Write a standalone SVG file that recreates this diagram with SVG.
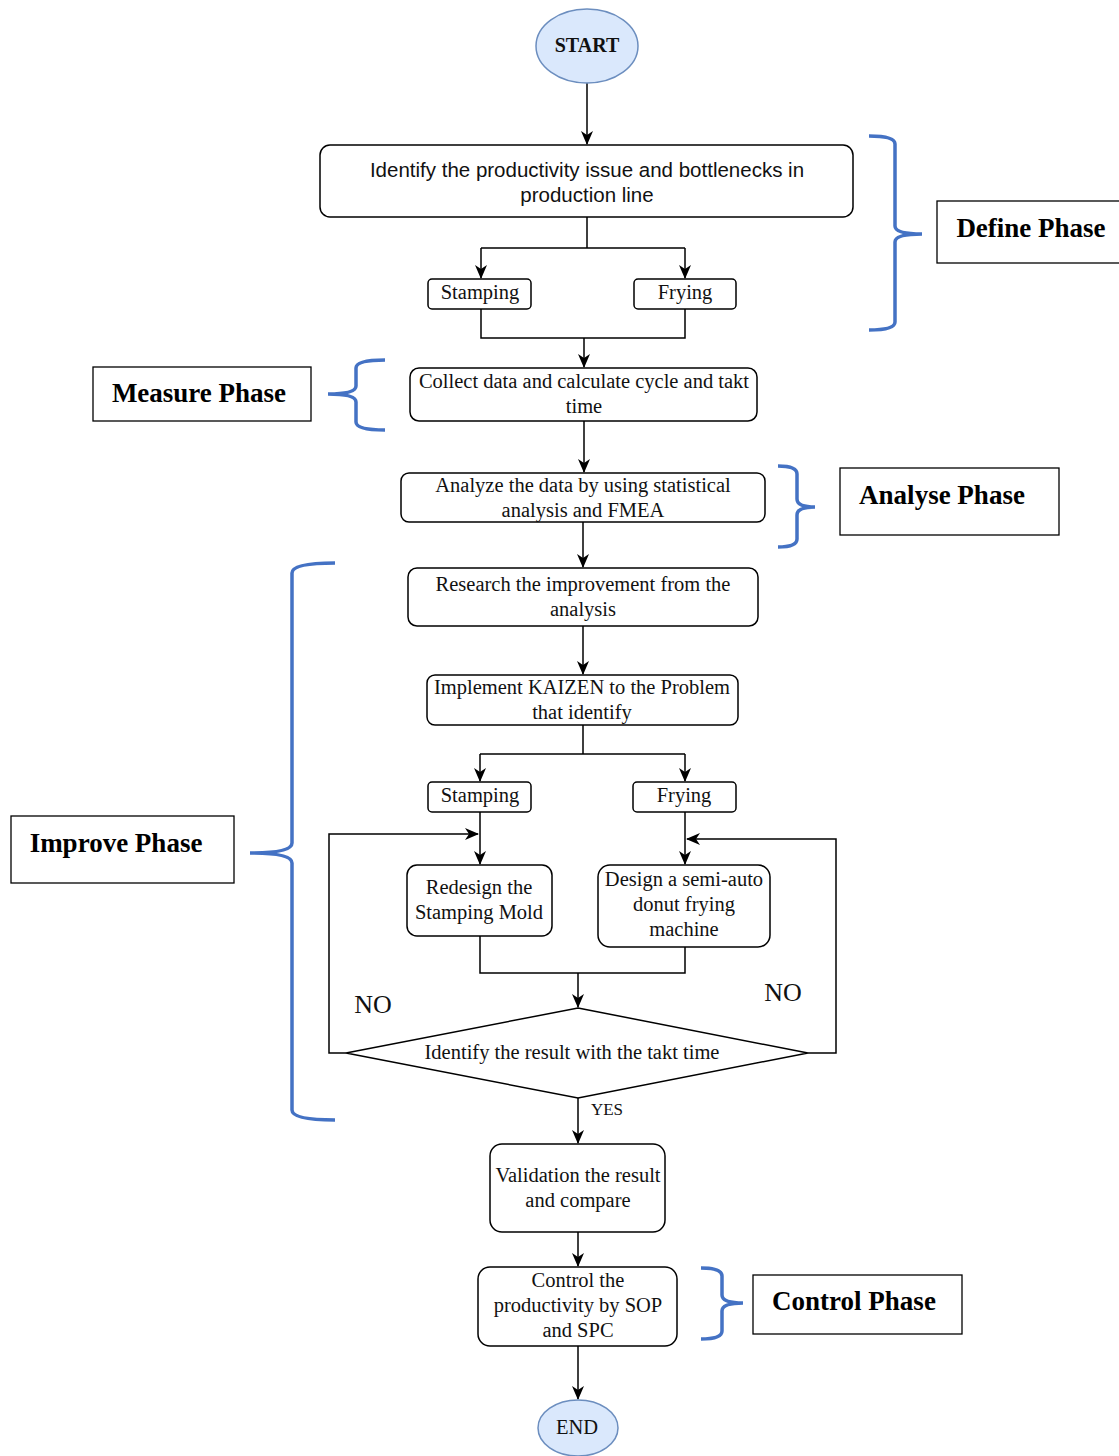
<svg xmlns="http://www.w3.org/2000/svg" width="1119" height="1456" viewBox="0 0 1119 1456">
<style>
.box{fill:#fff;stroke:#000;stroke-width:1.5}
.term{fill:#dae8fc;stroke:#6c8ebf;stroke-width:1.5}
.t{font-family:"Liberation Serif","Times New Roman",serif;font-size:20.5px;fill:#111;text-anchor:middle;dominant-baseline:central}
.ts{font-family:"Liberation Sans",Arial,sans-serif;font-size:20.5px;fill:#111;text-anchor:middle;dominant-baseline:central}
.ph{font-family:"Liberation Serif","Times New Roman",serif;font-size:27px;font-weight:bold;fill:#000;text-anchor:middle;dominant-baseline:central}
.phbox{fill:#fff;stroke:#000;stroke-width:1.3}
.brace{fill:none;stroke:#4472c4;stroke-width:3.5}
.c{fill:none;stroke:#000;stroke-width:1.5}
.ca{fill:none;stroke:#000;stroke-width:1.5;marker-end:url(#ah)}
</style>
<defs>
<marker id="ah" markerWidth="16" markerHeight="16" refX="14" refY="8" orient="auto" markerUnits="userSpaceOnUse">
<path d="M1,2 L15,8 L1,14 L5,8 Z" fill="#000"/>
</marker>
</defs>

<g id="connectors">
<path class="ca" d="M587,83 V144"/>
<path class="c" d="M587,217 V248 M481,248 H685"/>
<path class="ca" d="M481,248 V278"/>
<path class="ca" d="M685,248 V278"/>
<path class="c" d="M481,309 V338 H685 V309"/>
<path class="ca" d="M584,338 V367"/>
<path class="ca" d="M584,421 V472"/>
<path class="ca" d="M583,522 V567"/>
<path class="ca" d="M583,626 V674"/>
<path class="c" d="M583,725 V754 M480,754 H685"/>
<path class="ca" d="M480,754 V781"/>
<path class="ca" d="M685,754 V781"/>
<path class="ca" d="M480,812 V864"/>
<path class="ca" d="M685,812 V864"/>
<path class="c" d="M480,936 V973 H685 V947"/>
<path class="ca" d="M578,973 V1007"/>
<path class="ca" d="M346,1053 H329 V834 H478"/>
<path class="ca" d="M808,1053 H836 V839 H687"/>
<path class="ca" d="M578,1098 V1143"/>
<path class="ca" d="M578,1232 V1266"/>
<path class="ca" d="M578,1346 V1399"/>
</g>

<g id="start"><ellipse class="term" cx="587" cy="46" rx="51" ry="37"/><text class="t" x="587" y="45" style="font-weight:bold;font-size:20px">START</text></g>

<g id="identify"><rect class="box" x="320" y="145" width="533" height="72" rx="10"/>
<text class="ts" x="587" y="169">Identify the productivity issue and bottlenecks in</text>
<text class="ts" x="587" y="194">production line</text></g>

<g id="stamping1"><rect class="box" x="428" y="279" width="103" height="30" rx="4"/><text class="t" x="480" y="292">Stamping</text></g>
<g id="frying1"><rect class="box" x="634" y="279" width="102" height="30" rx="4"/><text class="t" x="685" y="292">Frying</text></g>

<g id="collect"><rect class="box" x="410" y="368" width="347" height="53" rx="9"/>
<text class="t" x="584" y="381">Collect data and calculate cycle and takt</text>
<text class="t" x="584" y="406">time</text></g>

<g id="analyze"><rect class="box" x="401" y="473" width="364" height="49" rx="8"/>
<text class="t" x="583" y="485">Analyze the data by using statistical</text>
<text class="t" x="583" y="510">analysis and FMEA</text></g>

<g id="research"><rect class="box" x="408" y="568" width="350" height="58" rx="9"/>
<text class="t" x="583" y="584">Research the improvement from the</text>
<text class="t" x="583" y="609">analysis</text></g>

<g id="implement"><rect class="box" x="427" y="675" width="311" height="50" rx="8"/>
<text class="t" x="582" y="687">Implement KAIZEN to the Problem</text>
<text class="t" x="582" y="712">that identify</text></g>

<g id="stamping2"><rect class="box" x="428" y="782" width="103" height="30" rx="4"/><text class="t" x="480" y="795">Stamping</text></g>
<g id="frying2"><rect class="box" x="633" y="782" width="103" height="30" rx="4"/><text class="t" x="684" y="795">Frying</text></g>

<g id="redesign"><rect class="box" x="407" y="865" width="145" height="71" rx="10"/>
<text class="t" x="479" y="887">Redesign the</text>
<text class="t" x="479" y="912">Stamping Mold</text></g>

<g id="design"><rect class="box" x="598" y="865" width="172" height="82" rx="12"/>
<text class="t" x="684" y="879">Design a semi-auto</text>
<text class="t" x="684" y="904">donut frying</text>
<text class="t" x="684" y="929">machine</text></g>

<g id="decision"><path class="box" d="M578,1008 L808,1053 L578,1098 L346,1053 Z"/>
<text class="t" x="572" y="1052">Identify the result with the takt time</text></g>

<g id="labels">
<text class="t" x="373" y="1004" style="font-size:26px">NO</text>
<text class="t" x="783" y="992" style="font-size:26px">NO</text>
<text class="t" x="607" y="1109" style="font-size:17px">YES</text>
</g>

<g id="validation"><rect class="box" x="490" y="1144" width="175" height="88" rx="12"/>
<text class="t" x="578" y="1175">Validation the result</text>
<text class="t" x="578" y="1200">and compare</text></g>

<g id="control"><rect class="box" x="478" y="1267" width="199" height="79" rx="12"/>
<text class="t" x="578" y="1280">Control the</text>
<text class="t" x="578" y="1305">productivity by SOP</text>
<text class="t" x="578" y="1330">and SPC</text></g>

<g id="end"><ellipse class="term" cx="578" cy="1428" rx="40" ry="28"/><text class="t" x="577" y="1427">END</text></g>

<g id="define-phase">
<path class="brace" d="M869,136 Q895,136 895,144 L895,226 Q895,234 922,234 M895,242 Q895,234 922,234 M895,242 L895,322 Q895,330 869,330"/>
<rect class="phbox" x="937" y="201" width="190" height="62"/>
<text class="ph" x="1031" y="228">Define Phase</text>
</g>

<g id="measure-phase">
<path class="brace" d="M385,360 Q356,360 356,368 L356,386 Q356,394 328,394 M356,402 Q356,394 328,394 M356,402 L356,422 Q356,430 385,430"/>
<rect class="phbox" x="93" y="367" width="218" height="54"/>
<text class="ph" x="199" y="393">Measure Phase</text>
</g>

<g id="analyse-phase">
<path class="brace" d="M778,466 Q797,466 797,474 L797,499 Q797,507 815,507 M797,515 Q797,507 815,507 M797,515 L797,539 Q797,547 778,547"/>
<rect class="phbox" x="840" y="468" width="219" height="67"/>
<text class="ph" x="942" y="495">Analyse Phase</text>
</g>

<g id="improve-phase">
<path class="brace" d="M335,563 Q292,563 292,573 L292,843 Q292,853 250,853 M292,863 Q292,853 250,853 M292,863 L292,1110 Q292,1120 335,1120"/>
<rect class="phbox" x="11" y="816" width="223" height="67"/>
<text class="ph" x="116" y="843">Improve Phase</text>
</g>

<g id="control-phase">
<path class="brace" d="M701,1268 Q722,1268 722,1276 L722,1295 Q722,1303 743,1303 M722,1311 Q722,1303 743,1303 M722,1311 L722,1331 Q722,1339 701,1339"/>
<rect class="phbox" x="753" y="1275" width="209" height="59"/>
<text class="ph" x="854" y="1301">Control Phase</text>
</g>
</svg>
